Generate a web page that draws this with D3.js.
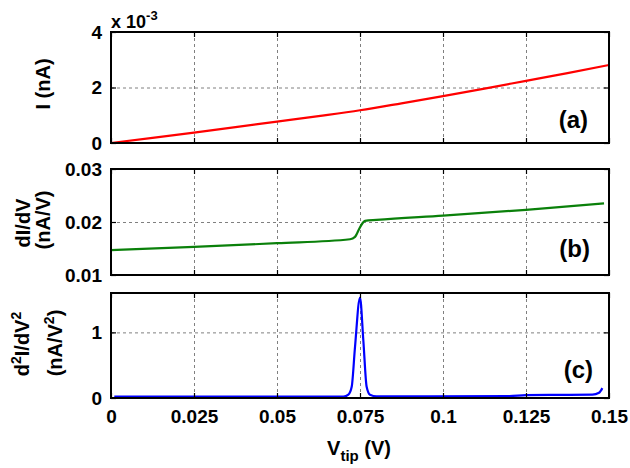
<!DOCTYPE html>
<html>
<head>
<meta charset="utf-8">
<script src="https://cdn.jsdelivr.net/npm/d3@7"></script>
<style>
  body { margin: 0; background: #fff; }
  svg text { font-family: "Liberation Sans", Arial, sans-serif; font-weight: bold; fill: #000; }
</style>
</head>
<body>
<div id="chart"></div>
<script>
// three stacked panels sharing the tip-voltage axis

var xTicks = [0, 0.025, 0.05, 0.075, 0.1, 0.125, 0.15];
var xTickLabels = ["0", "0.025", "0.05", "0.075", "0.1", "0.125", "0.15"];

// (a) current, in units of 1e-3 nA
var vA = [0, 0.0125, 0.025, 0.0375, 0.05, 0.0625, 0.075, 0.0875, 0.1, 0.1125, 0.125, 0.1375, 0.15];
var iA = [0, 0.185, 0.375, 0.57, 0.77, 0.97, 1.18, 1.43, 1.69, 1.96, 2.24, 2.52, 2.81];
var aTicks = [0, 2, 4];

// (b) dI/dV
var vB = [0, 0.025, 0.05, 0.072, 0.0735, 0.075, 0.0765, 0.08, 0.1, 0.125, 0.1485];
var dB = [0.0147, 0.0153, 0.0160, 0.01675, 0.0172, 0.0190, 0.0202, 0.0204, 0.0212, 0.0223, 0.0235];
var bTicks = [0.01, 0.02, 0.03];

// (c) d2I/dV2
var vC = [0.001, 0.07, 0.0715, 0.0725, 0.0735, 0.075, 0.076, 0.077, 0.078, 0.08, 0.12, 0.125, 0.145, 0.147, 0.148];
var dC = [0.02, 0.02, 0.05, 0.17, 0.78, 1.53, 0.88, 0.17, 0.05, 0.025, 0.03, 0.045, 0.05, 0.08, 0.15];
var cTicks = [0, 1];

var width = 630, height = 468;
var left = 111, right = 609;

var panels = [
  { top: 32, bottom: 143, xs: vA, ys: iA, dom: [0, 4], ticks: aTicks, fmt: d3.format("d"), color: "#ff0000", tag: "(a)", tagX: 588, tagY: 128 },
  { top: 169, bottom: 275, xs: vB, ys: dB, dom: [0.01, 0.03], ticks: bTicks, fmt: d3.format(".2f"), color: "#0a800a", tag: "(b)", tagX: 590, tagY: 257 },
  { top: 293, bottom: 398, xs: vC, ys: dC, dom: [0, 1.6], ticks: cTicks, fmt: d3.format("d"), color: "#0000ff", tag: "(c)", tagX: 593, tagY: 378 }
];

var x = d3.scaleLinear().domain([0, 0.15]).range([left, right]);

var svg = d3.select("#chart").append("svg")
    .attr("width", width)
    .attr("height", height);

panels.forEach(function(p, k) {
  var y = d3.scaleLinear().domain(p.dom).range([p.bottom, p.top]);
  var h = p.bottom - p.top;
  var g = svg.append("g");

  // dashed grid
  g.append("g")
    .attr("transform", "translate(0," + p.bottom + ")")
    .call(d3.axisBottom(x).tickValues(xTicks).tickSize(-h).tickFormat(""))
    .call(function(s) {
      s.select(".domain").remove();
      s.selectAll("line").attr("stroke", "#808080").attr("stroke-dasharray", "3,3");
    });
  g.append("g")
    .attr("transform", "translate(" + left + ",0)")
    .call(d3.axisLeft(y).tickValues(p.ticks).tickSize(-(right - left)).tickFormat(""))
    .call(function(s) {
      s.select(".domain").remove();
      s.selectAll("line").attr("stroke", "#808080").attr("stroke-dasharray", "3,3");
    });

  // curve
  var line = d3.line()
    .x(function(d, i) { return x(p.xs[i]); })
    .y(function(d) { return y(d); })
    .curve(d3.curveMonotoneX);
  g.append("path")
    .datum(p.ys)
    .attr("fill", "none")
    .attr("stroke", p.color)
    .attr("stroke-width", 2.2)
    .attr("d", line);

  // inner ticks on four sides
  g.append("g")
    .attr("transform", "translate(0," + p.bottom + ")")
    .call(d3.axisBottom(x).tickValues(xTicks).tickSizeInner(-5).tickSizeOuter(0).tickPadding(12)
      .tickFormat(function(d, i) { return k === 2 ? xTickLabels[i] : ""; }));
  g.append("g")
    .attr("transform", "translate(0," + p.top + ")")
    .call(d3.axisTop(x).tickValues(xTicks).tickSizeInner(-5).tickSizeOuter(0).tickFormat(""));
  g.append("g")
    .attr("transform", "translate(" + left + ",0)")
    .call(d3.axisLeft(y).tickValues(p.ticks).tickSizeInner(-5).tickSizeOuter(0).tickPadding(9).tickFormat(p.fmt));
  g.append("g")
    .attr("transform", "translate(" + right + ",0)")
    .call(d3.axisRight(y).tickValues(p.ticks).tickSizeInner(-5).tickSizeOuter(0).tickFormat(""));

  g.selectAll(".domain").remove();
  g.selectAll(".tick line").filter(function() { return !this.getAttribute("stroke-dasharray"); })
    .attr("stroke", "#000").attr("stroke-width", 1.2);
  g.selectAll(".tick text").attr("font-size", 19).attr("font-family", null);

  // frame
  g.append("rect")
    .attr("x", left).attr("y", p.top)
    .attr("width", right - left).attr("height", h)
    .attr("fill", "none").attr("stroke", "#000").attr("stroke-width", 2);

  g.append("text")
    .attr("x", p.tagX).attr("y", p.tagY)
    .attr("text-anchor", "end")
    .attr("font-size", 24)
    .text(p.tag);
});

// multiplier above panel (a)
var mult = svg.append("text").attr("x", 111).attr("y", 28).attr("font-size", 18);
mult.append("tspan").text("x 10");
mult.append("tspan").attr("font-size", 13).attr("dy", -8).text("-3");

// y labels
function yLabel(cx, cy, parts) {
  var t = svg.append("text")
    .attr("transform", "translate(" + cx + "," + cy + ") rotate(-90)")
    .attr("text-anchor", "middle")
    .attr("font-size", 20);
  parts.forEach(function(pt) {
    var s = t.append("tspan").text(pt[0]);
    if (pt[1] === "sup") s.attr("font-size", 14).attr("dy", -8);
    if (pt[1] === "back") s.attr("dy", 8);
  });
}
yLabel(50, 84, [["I (nA)"]]);
yLabel(30, 223, [["dI/dV"]]);
yLabel(50, 220, [["(nA/V)"]]);
yLabel(29, 344, [["d"], ["2", "sup"], ["I/dV", "back"], ["2", "sup"]]);
yLabel(62, 343, [["(nA/V"], ["2", "sup"], [")", "back"]]);

// x label
var xl = svg.append("text").attr("x", 359).attr("y", 455).attr("text-anchor", "middle").attr("font-size", 20);
xl.append("tspan").text("V");
xl.append("tspan").attr("font-size", 15).attr("dy", 6).text("tip");
xl.append("tspan").attr("dy", -6).text(" (V)");
</script>
</body>
</html>
